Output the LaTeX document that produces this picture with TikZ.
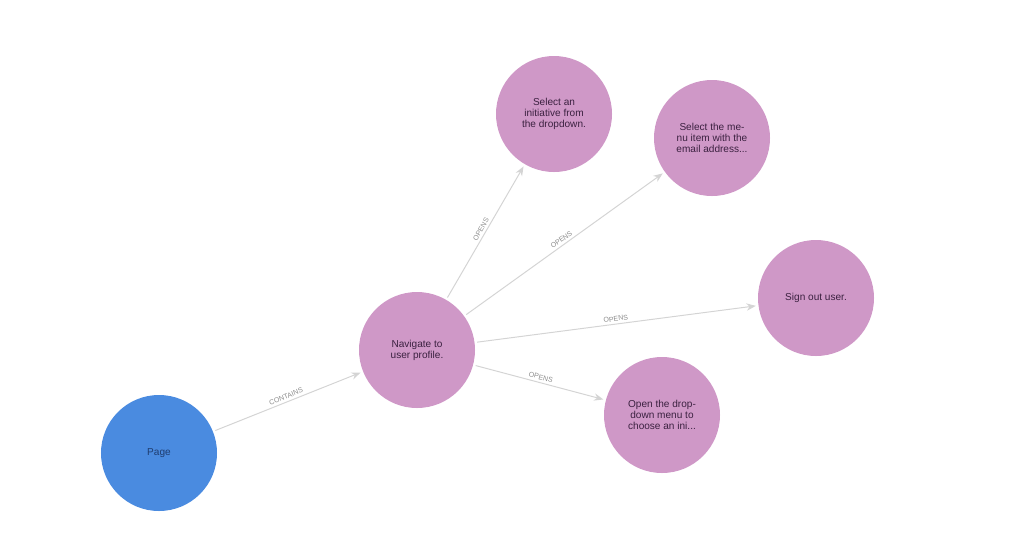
\documentclass[tikz,border=0pt]{standalone}
\usepackage{fontspec}
\setmainfont{Liberation Sans}
\usepackage{tikz}
\usetikzlibrary{shapes, arrows.meta, positioning, calc}
\usepackage{xcolor}
\definecolor{pagblue}{HTML}{4a8be0}
\definecolor{pagtext}{HTML}{1f3d70}
\definecolor{stepink}{HTML}{cf98c7}
\definecolor{steptext}{HTML}{3b2140}
\definecolor{edgegrey}{HTML}{d4d4d4}
\definecolor{labgrey}{HTML}{8c8c8c}
\tikzset{
  pagenode/.style={circle, fill=pagblue, draw=none, minimum size=3.48cm,
                   inner sep=0, outer sep=0.08cm, align=center,
                   font=\fontsize{8.6}{9.4}\selectfont, text=pagtext},
  stepnode/.style={circle, fill=stepink, draw=none, minimum size=3.48cm,
                   inner sep=0, outer sep=0.08cm, align=center,
                   font=\fontsize{8.6}{9.4}\selectfont, text=steptext},
  rel/.style={->, line width=0.85pt, draw=edgegrey,
              >={Stealth[length=2.8mm,width=2.2mm]}},
  rellab/.style={font=\fontsize{6}{7}\selectfont, text=labgrey, inner sep=1pt,
                 sloped, midway, above=1pt},
}
\begin{document}
\begin{tikzpicture}[x=0.03cm, y=-0.03cm]
  \useasboundingbox (0,0) rectangle (1024,547);

  % --- Nodes ---
  \node[pagenode] (page) at (159, 453) {Page};
  \node[stepnode] (nav)  at (417, 350) {Navigate to\\user profile.};
  \node[stepnode] (init) at (554, 114) {Select an\\initiative from\\the dropdown.};
  \node[stepnode] (menu) at (712, 138) {Select the me-\\nu item with the\\email address...};
  \node[stepnode] (sign) at (816, 298) {Sign out user.};
  \node[stepnode] (drop) at (662, 415) {Open the drop-\\down menu to\\choose an ini...};

  % --- Edges ---
  \draw[rel] (page) -- (nav) node[rellab]{CONTAINS};
  \draw[rel] (nav) -- (init) node[rellab]{OPENS};
  \draw[rel] (nav) -- (menu) node[rellab]{OPENS};
  \draw[rel] (nav) -- (sign) node[rellab]{OPENS};
  \draw[rel] (nav) -- (drop) node[rellab]{OPENS};

\end{tikzpicture}
\end{document}
